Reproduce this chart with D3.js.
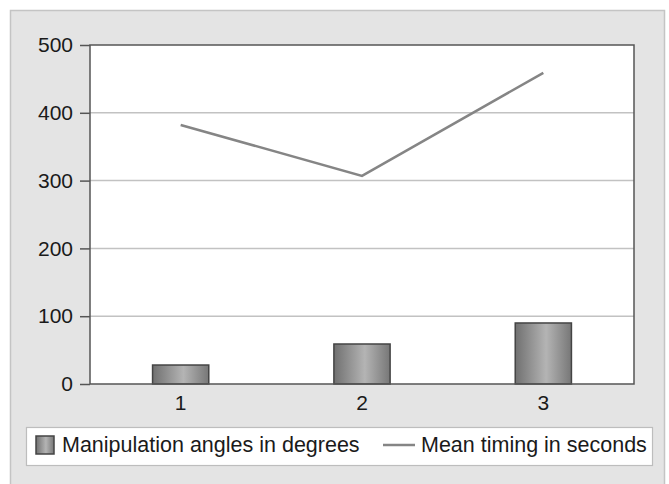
<!DOCTYPE html>
<html>
<head>
<meta charset="utf-8">
<script src="https://cdn.jsdelivr.net/npm/d3@7"></script>
<style>
body{margin:0;background:#fff;}
text{font-family:"Liberation Sans",Arial,sans-serif;fill:#1a1a1a;}
</style>
</head>
<body>
<script>
var categories = ['1','2','3'];
var angles = [28, 59, 90];
var timing = [382, 307, 459];
var yTicks = [0, 100, 200, 300, 400, 500];
var barName = 'Manipulation angles in degrees', lineName = 'Mean timing in seconds';

var width = 669, height = 484, margin = {left:90, top:45, right:35, bottom:100};
var g_width = width - margin.left - margin.right, g_height = height - margin.top - margin.bottom;

var svg = d3.select('body').append('svg').attr('width',width).attr('height',height);

var defs = svg.append('defs');
var grad = defs.append('linearGradient').attr('id','barGrad').attr('x1','0%').attr('x2','100%').attr('y1','0%').attr('y2','0%');
grad.append('stop').attr('offset','0%').attr('stop-color','#707070');
grad.append('stop').attr('offset','55%').attr('stop-color','#b4b4b4');
grad.append('stop').attr('offset','100%').attr('stop-color','#777');

// outer panel
svg.append('rect').attr('x',10.5).attr('y',10.5).attr('width',654).attr('height',480)
	.attr('fill','#e4e4e4').attr('stroke','#c4c4c4').attr('stroke-width',1.5);

var g = svg.append('g').attr('transform','translate('+margin.left+','+margin.top+')');
g.append('rect').attr('width',g_width).attr('height',g_height).attr('fill','#fff');

var scale_x = d3.scaleBand().domain(categories).range([0,g_width]);
var scale_y = d3.scaleLinear().domain([0,500]).range([g_height,0]);

// gridlines
g.selectAll('.grid').data(yTicks.slice(1,-1)).enter().append('line')
	.attr('x1',0).attr('x2',g_width).attr('y1',d=>scale_y(d)).attr('y2',d=>scale_y(d))
	.attr('stroke','#c2c2c2').attr('stroke-width',1.5);

// bars
var bw = scale_x.bandwidth()*0.31;
g.selectAll('.bar').data(angles).enter().append('rect')
	.attr('x',(d,i)=>scale_x(categories[i])+scale_x.bandwidth()/2-bw/2)
	.attr('y',d=>scale_y(d)).attr('width',bw).attr('height',d=>g_height-scale_y(d))
	.attr('fill','url(#barGrad)').attr('stroke','#444').attr('stroke-width',1.5);

// line
var line_generator = d3.line()
	.x((d,i)=>scale_x(categories[i])+scale_x.bandwidth()/2)
	.y(d=>scale_y(d));
g.append('path').attr('d',line_generator(timing)).attr('fill','none')
	.attr('stroke','#858585').attr('stroke-width',2.5);

// frame
g.append('rect').attr('width',g_width).attr('height',g_height).attr('fill','none')
	.attr('stroke','#555').attr('stroke-width',1.5);

// y axis
var y_axis = d3.axisLeft(scale_y).tickValues(yTicks).tickSize(10).tickPadding(7);
var ya = g.append('g').call(y_axis);
ya.select('.domain').remove();
ya.selectAll('line').attr('stroke','#555').attr('stroke-width',1.5);
ya.selectAll('text').style('font-size','21px').attr('fill','#1a1a1a');

// x axis
var x_axis = d3.axisBottom(scale_x).tickSize(0).tickPadding(11);
var xa = g.append('g').attr('transform','translate(0,'+g_height+')').call(x_axis);
xa.select('.domain').remove();
xa.selectAll('text').style('font-size','21px').attr('fill','#1a1a1a');

// legend
var lg = svg.append('g');
lg.append('rect').attr('x',26.5).attr('y',427.5).attr('width',626).attr('height',38)
	.attr('fill','#fff').attr('stroke','#bdbdbd').attr('stroke-width',1.2);
lg.append('rect').attr('x',36).attr('y',436).attr('width',18).attr('height',18)
	.attr('fill','url(#barGrad)').attr('stroke','#444').attr('stroke-width',1.5);
lg.append('text').attr('x',62).attr('y',452).style('font-size','21.5px').text(barName);
lg.append('line').attr('x1',383).attr('x2',415).attr('y1',445).attr('y2',445)
	.attr('stroke','#858585').attr('stroke-width',2.5);
lg.append('text').attr('x',421).attr('y',452).style('font-size','21.5px').text(lineName);
</script>
</body>
</html>
